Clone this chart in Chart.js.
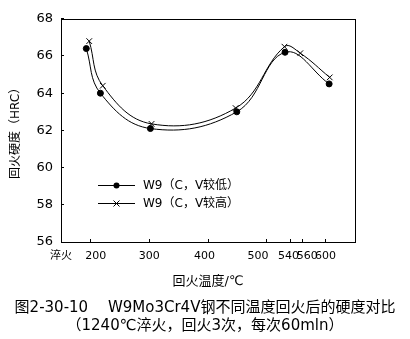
<!DOCTYPE html>
<html>
<head>
<meta charset="utf-8">
<script src="https://cdn.jsdelivr.net/npm/chart.js@4.4.0/dist/chart.umd.min.js"></script>
<style>
  html, body { margin: 0; padding: 0; background: #fff; }
  #wrap { width: 410px; height: 339px; }
</style>
</head>
<body>
<div id="wrap"><canvas id="hrc"></canvas></div>
<script>
// tempering temperature (°C) and hardness (HRC)
const tempLow = [193, 217, 302, 449, 531, 606];
const hrcLow = [66.4, 64.0, 62.1, 63.0, 66.2, 64.5];
const tempHigh = [198, 221, 304, 447, 530, 557, 607];
const hrcHigh = [66.8, 64.4, 62.35, 63.2, 66.5, 66.15, 64.85];

const seriesNames = ["W9（C，V较低）", "W9（C，V较高）"];
const xTickValues = [150, 200, 300, 400, 500, 540, 560, 600];
// the printed labels sit a bit off their tick marks, spaces nudge them
const xTickLabels = ["淬火", "   200", "300", "400  ", "500     ", "540 ", "   560", "600"];
const caption = [
  "图2-30-10　 W9Mo3Cr4V钢不同温度回火后的硬度对比",
  "（1240℃淬火，回火3次，每次60mln）"
];

Chart.defaults.font.family = "'DejaVu Sans', 'Noto Sans CJK SC', sans-serif";
Chart.defaults.color = "#000";

// frame round the plot + the legend drawn inside it
const framePlugin = {
  id: "frame",
  afterDraw(chart) {
    const ctx = chart.ctx;
    const a = chart.chartArea;
    ctx.save();
    ctx.strokeStyle = "#000";
    ctx.fillStyle = "#000";
    ctx.lineWidth = 1;
    ctx.strokeRect(Math.round(a.left) + 0.5, Math.round(a.top) + 0.5,
      Math.round(a.right - a.left), Math.round(a.bottom - a.top));

    ctx.font = "12px 'DejaVu Sans', 'Noto Sans CJK SC', sans-serif";
    ctx.textBaseline = "middle";
    chart.data.datasets.forEach(function (ds, i) {
      const x = Math.round(a.left) + 37;
      const y = Math.round(a.top) + 166.5 + i * 18;
      ctx.beginPath();
      ctx.moveTo(x, y);
      ctx.lineTo(x + 37, y);
      ctx.stroke();
      const mx = x + 18.5;
      if (ds.pointStyle === "circle") {
        ctx.beginPath();
        ctx.arc(mx, y, ds.pointRadius, 0, Math.PI * 2);
        ctx.fill();
      } else {
        const r = ds.pointRadius * 0.75;
        ctx.beginPath();
        ctx.moveTo(mx - r, y - r);
        ctx.lineTo(mx + r, y + r);
        ctx.moveTo(mx - r, y + r);
        ctx.lineTo(mx + r, y - r);
        ctx.stroke();
      }
      ctx.fillText(ds.label, x + 45, y);
    });
    ctx.restore();
  }
};

new Chart("hrc", {
  type: "line",
  data: {
    datasets: [
      {
        label: seriesNames[0],
        data: tempLow.map((t, i) => ({ x: t, y: hrcLow[i] })),
        borderColor: "#000",
        backgroundColor: "#000",
        borderWidth: 1,
        pointStyle: "circle",
        pointRadius: 3,
        tension: 0.4,
        fill: false,
      },
      {
        label: seriesNames[1],
        data: tempHigh.map((t, i) => ({ x: t, y: hrcHigh[i] })),
        borderColor: "#000",
        backgroundColor: "#000",
        borderWidth: 1,
        pointStyle: "crossRot",
        pointRadius: 4,
        tension: 0.4,
        fill: false,
      },
    ],
  },
  options: {
    responsive: true,
    maintainAspectRatio: false,
    animation: false,
    devicePixelRatio: 1,
    layout: { padding: { top: 13, right: 0, left: 0, bottom: 0 } },
    scales: {
      x: {
        type: "linear",
        min: 150,
        max: 650,
        afterBuildTicks: function (scale) {
          scale.ticks = xTickValues.map((v) => ({ value: v }));
        },
        afterFit: function (scale) {
          scale.height = 53;
        },
        ticks: {
          autoSkip: false,
          maxRotation: 0,
          padding: 11,
          font: { size: 11 },
          callback: function (value, index) {
            return xTickLabels[index];
          },
        },
        grid: { drawOnChartArea: false, tickLength: -3, color: "#000" },
        border: { color: "#000", width: 1 },
        title: {
          display: true,
          text: "回火温度/℃",
          font: { size: 13 },
          padding: { top: 0, bottom: 5.5 },
        },
      },
      y: {
        min: 56,
        max: 68,
        afterFit: function (scale) {
          scale.width = 61;
        },
        ticks: { stepSize: 2, padding: 11, font: { size: 13 } },
        grid: { drawOnChartArea: false, tickLength: -3, color: "#000" },
        border: { color: "#000", width: 1 },
        title: {
          display: true,
          text: "回火硬度（HRC）",
          font: { size: 12 },
          padding: { top: 9, bottom: 0 },
        },
      },
      // empty right axis, only keeps the white margin right of the frame
      yr: {
        position: "right",
        grid: { display: false },
        border: { display: false },
        ticks: { display: false },
        afterFit: function (scale) {
          scale.width = 55;
        },
      },
    },
    plugins: {
      legend: { display: false },
      tooltip: { enabled: false },
      title: {
        display: true,
        position: "bottom",
        text: caption,
        color: "#000",
        font: { size: 15, weight: "normal", lineHeight: 1.2 },
        padding: { top: 4, bottom: 4 },
      },
    },
  },
  plugins: [framePlugin],
});
</script>
</body>
</html>
